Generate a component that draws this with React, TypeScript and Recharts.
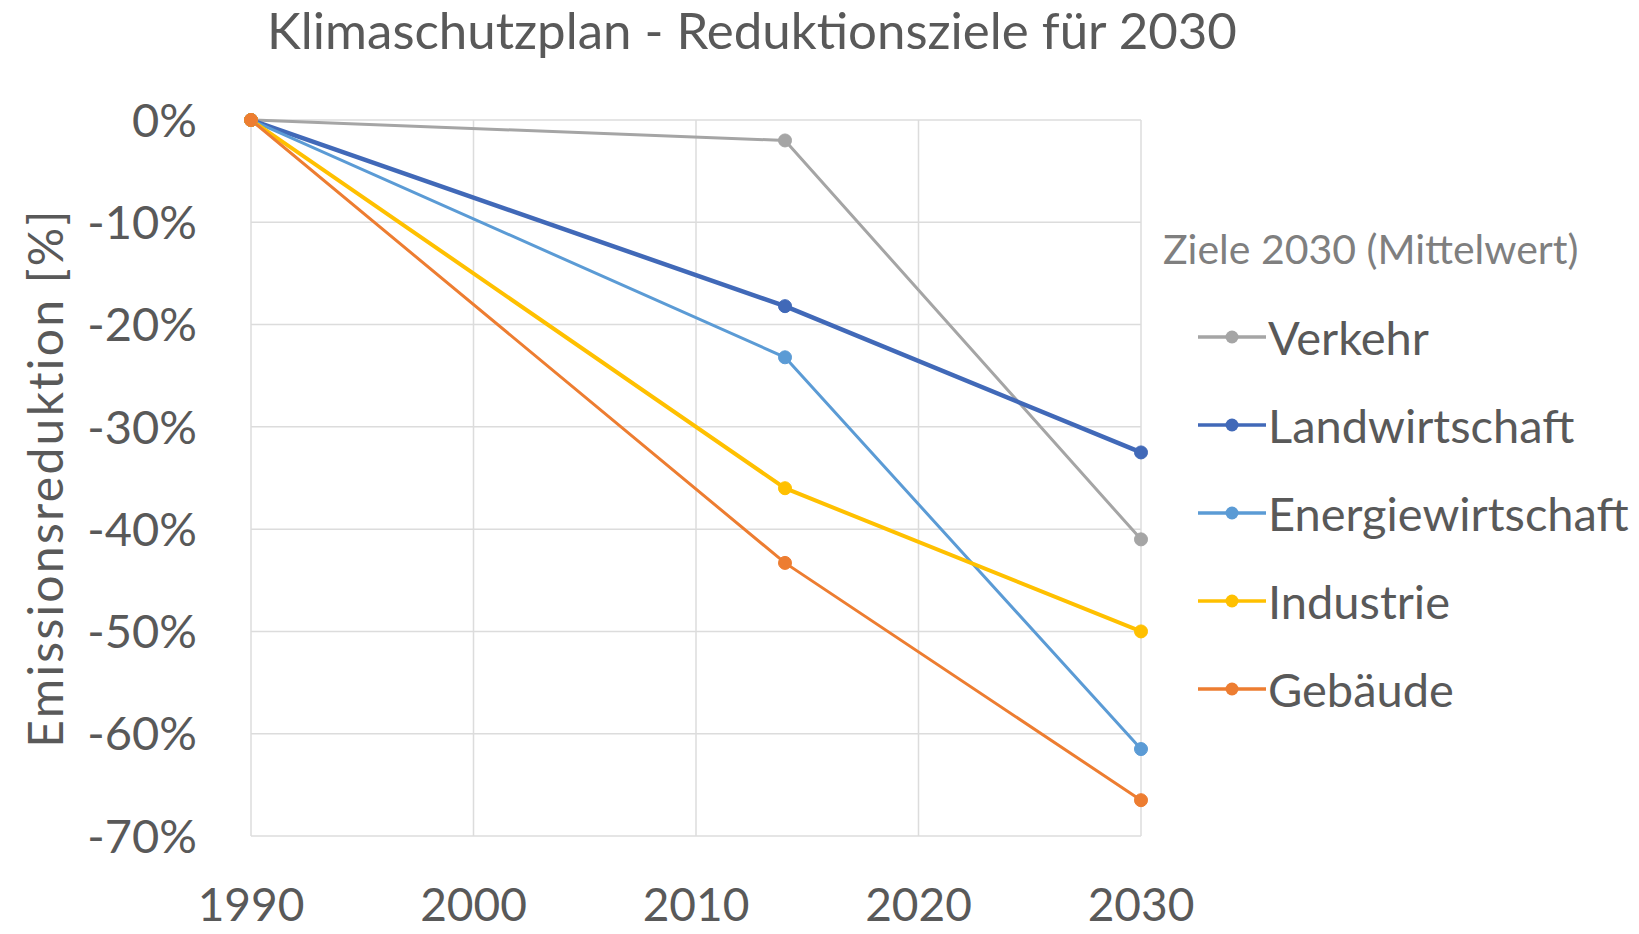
import React from 'react';
import { LineChart, Line, XAxis, YAxis, CartesianGrid, Legend } from 'recharts';

const years = [1990, 2014, 2030];
const verkehr = [0, -2, -41];
const landwirtschaft = [0, -18.2, -32.5];
const energiewirtschaft = [0, -23.2, -61.5];
const industrie = [0, -36, -50];
const gebaeude = [0, -43.3, -66.5];

const xTicks = [1990, 2000, 2010, 2020, 2030];
const yTicks = [0, -10, -20, -30, -40, -50, -60, -70];

const seriesNames = ['Verkehr', 'Landwirtschaft', 'Energiewirtschaft', 'Industrie', 'Gebäude'];
const seriesColors = ['#A5A5A5', '#4169B8', '#5B9BD5', '#FFC000', '#ED7D31'];
const seriesWidths = [3, 4.5, 3, 4, 3];
const seriesValues = [verkehr, landwirtschaft, energiewirtschaft, industrie, gebaeude];

const chartTitle = 'Klimaschutzplan - Reduktionsziele für 2030';
const yAxisTitle = 'Emissionsreduktion [%]';
const legendTitle = 'Ziele 2030 (Mittelwert)';

const data = years.map((year, i) => {
  const row: Record<string, number> = { year };
  seriesNames.forEach((name, s) => {
    row[name] = seriesValues[s][i];
  });
  return row;
});

const FONT = 'Lato, "Open Sans", sans-serif';
const TEXT = '#595959';

const renderLegend = (props: any) => {
  const payload = [...(props.payload || [])].sort(
    (a: any, b: any) => seriesNames.indexOf(a.value) - seriesNames.indexOf(b.value)
  );
  return (
    <div style={{ position: 'relative', width: 1639, height: 934, fontFamily: FONT, pointerEvents: 'none' }}>
      <div
        style={{
          position: 'absolute',
          left: 1163,
          top: 249 - 25,
          height: 50,
          lineHeight: '50px',
          fontSize: 41,
          color: '#7f7f7f',
          whiteSpace: 'nowrap',
        }}
      >
        {legendTitle}
      </div>
      {payload.map((p: any, i: number) => (
        <div
          key={p.value}
          style={{
            position: 'absolute',
            left: 1198,
            top: 337 + 88 * i - 30,
            height: 60,
            display: 'flex',
            alignItems: 'center',
            whiteSpace: 'nowrap',
          }}
        >
          <svg width={68} height={20} style={{ display: 'block' }}>
            <line x1={0} y1={10} x2={68} y2={10} stroke={p.color} strokeWidth={3.5} />
            <circle cx={34} cy={10} r={6.5} fill={p.color} />
          </svg>
          <span style={{ fontSize: 47, color: TEXT, marginLeft: 2, lineHeight: '60px' }}>{p.value}</span>
        </div>
      ))}
    </div>
  );
};

export default function App() {
  return (
    <div style={{ position: 'absolute', left: 0, top: 0, width: 1639, height: 934, background: '#fff', fontFamily: FONT }}>
      <LineChart width={1639} height={934} data={data} margin={{ top: 120, right: 498, bottom: 0, left: 0 }}>
        <CartesianGrid stroke="#dcdcdc" strokeWidth={1.5} verticalValues={xTicks} horizontalValues={yTicks} />
        <XAxis
          dataKey="year"
          type="number"
          domain={[1990, 2030]}
          ticks={xTicks}
          height={98}
          axisLine={false}
          tickLine={false}
          tickSize={0}
          tickMargin={52}
          tick={{ fontSize: 46, fill: TEXT, fontFamily: FONT }}
          interval={0}
        />
        <YAxis
          type="number"
          domain={[-70, 0]}
          ticks={yTicks}
          width={251}
          axisLine={false}
          tickLine={false}
          tickSize={0}
          tickMargin={54}
          tickFormatter={(v: number) => `${v}%`}
          tick={{ fontSize: 47, fill: TEXT, fontFamily: FONT }}
          interval={0}
        />
        <Legend
          layout="horizontal"
          verticalAlign="middle"
          align="center"
          content={renderLegend}
          wrapperStyle={{ left: 0, top: 0, width: 1639, height: 934, pointerEvents: 'none' }}
        />
        {seriesNames.map((name, s) => (
          <Line
            key={name}
            type="linear"
            dataKey={name}
            name={name}
            stroke={seriesColors[s]}
            strokeWidth={seriesWidths[s]}
            dot={{ r: 6.5, fill: seriesColors[s], stroke: seriesColors[s], strokeWidth: 1 }}
            activeDot={false}
            isAnimationActive={false}
          />
        ))}
      </LineChart>
      <svg
        width={1639}
        height={934}
        style={{ position: 'absolute', left: 0, top: 0, pointerEvents: 'none' }}
      >
        <text x={752} y={49} textAnchor="middle" fontSize={51} fill={TEXT} fontFamily={FONT}>
          {chartTitle}
        </text>
        <text
          x={44}
          y={478}
          transform="rotate(-90, 44, 478)"
          textAnchor="middle"
          dominantBaseline="central"
          fontSize={48}
          letterSpacing={2.3}
          fill={TEXT}
          fontFamily={FONT}
        >
          {yAxisTitle}
        </text>
      </svg>
    </div>
  );
}
